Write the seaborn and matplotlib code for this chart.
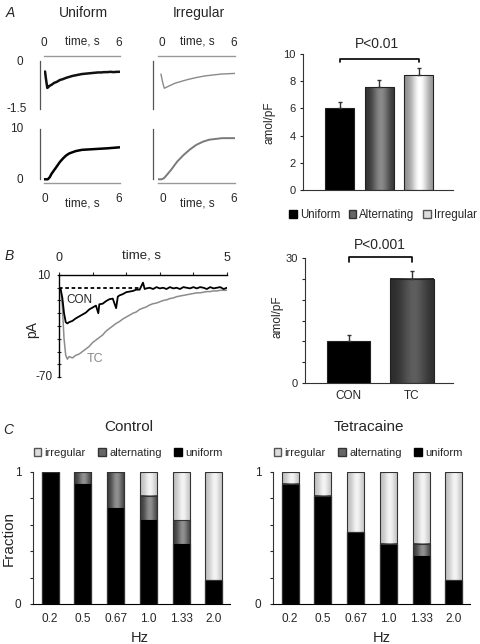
import numpy as np
import matplotlib
matplotlib.use('Agg')
import matplotlib.pyplot as plt
import seaborn as sns
from matplotlib.colors import to_rgb
from matplotlib.patches import Patch

sns.set_style('white')
plt.rcParams['font.family'] = ['Liberation Sans', 'DejaVu Sans']

# ---- panel A: traces (current, uniform / irregular) ----
uni_cur_t = [0.08, 0.15, 0.26, 0.35, 0.45, 0.6, 0.8, 1.0, 1.25, 1.5, 1.75, 2.0, 2.25, 2.5,
             2.75, 3.0, 3.25, 3.5, 3.75, 4.0, 4.25, 4.5, 4.75, 5.0, 5.25, 5.5, 5.75, 6.0]
uni_cur_v = [-0.33, -0.55, -0.85, -0.82, -0.78, -0.75, -0.69, -0.66, -0.60, -0.57, -0.53, -0.50,
             -0.47, -0.45, -0.43, -0.41, -0.40, -0.39, -0.38, -0.37, -0.36, -0.36, -0.35, -0.35,
             -0.34, -0.35, -0.34, -0.34]
irr_cur_t = [0.23, 0.35, 0.49, 0.8, 1.33, 2.0, 2.36, 3.0, 3.66, 4.3, 4.96, 5.5, 6.0]
irr_cur_v = [-0.41, -0.65, -0.86, -0.80, -0.70, -0.62, -0.58, -0.52, -0.47, -0.44, -0.41, -0.40, -0.39]

# cumulative (amol/pF)
uni_cum_t = [0, 0.3, 0.45, 0.6, 0.8, 1.0, 1.25, 1.5, 1.75, 2.0, 2.5, 3.0, 4.0, 5.0, 6.0]
uni_cum_v = [0, 0, 0.4, 1.1, 1.8, 2.5, 3.4, 4.1, 4.7, 5.1, 5.55, 5.8, 5.95, 6.1, 6.3]
irr_cum_t = [0, 0.3, 0.5, 1.0, 1.5, 2.0, 2.5, 3.0, 3.5, 4.0, 5.0, 6.0]
irr_cum_v = [0, 0, 0.3, 1.8, 3.5, 4.8, 5.9, 6.8, 7.4, 7.8, 8.1, 8.1]

# ---- panel A: bars ----
a_cats = ['Uniform', 'Alternating', 'Irregular']
a_vals = [6.05, 7.55, 8.45]
a_errs = [0.45, 0.55, 0.55]

# ---- panel B: traces (pA) ----
con_t = [0, 0.05, 0.1, 0.15, 0.2, 0.25, 0.3, 0.4, 0.5, 0.6, 0.7, 0.8, 0.9, 1.0, 1.1, 1.17, 1.2,
         1.3, 1.4, 1.5, 1.6, 1.7, 1.75, 1.8, 1.9, 2.0, 2.1, 2.2, 2.3, 2.4, 2.5, 2.55, 2.6, 2.7,
         2.8, 2.9, 3.0, 3.1, 3.2, 3.3, 3.4, 3.5, 3.6, 3.7, 3.8, 3.9, 4.0, 4.1, 4.2, 4.3, 4.4,
         4.5, 4.6, 4.7, 4.8, 4.9, 5.0]
con_v = [0.5, -1, -8, -20, -27, -28, -27, -26, -24, -22.5, -21, -19.5, -17, -15.5, -14, -20, -13,
         -12.5, -10.5, -9, -8.5, -16, -7, -6, -5, -3.5, -3, -2.5, -1.5, -1.5, 4, -1, -0.5, 0,
         -1, 0.5, -0.5, 0, -1, 0.5, -0.5, 0, -1, 0.5, 0, -0.5, 0.5, -0.5, 0.5, 0, -1,
         0.5, -0.5, 0, 0.5, -1, 0]
tc_t = [0, 0.05, 0.1, 0.15, 0.2, 0.25, 0.3, 0.4, 0.5, 0.6, 0.7, 0.8, 0.9, 1.0, 1.1, 1.2, 1.3,
        1.4, 1.5, 1.6, 1.7, 1.8, 1.9, 2.0, 2.1, 2.2, 2.3, 2.4, 2.5, 2.6, 2.7, 2.8, 2.9, 3.0,
        3.1, 3.2, 3.3, 3.4, 3.5, 3.6, 3.7, 3.8, 3.9, 4.0, 4.1, 4.2, 4.3, 4.4, 4.5, 4.6, 4.7,
        4.8, 4.9, 5.0]
tc_v = [0.5, -2, -15, -40, -53, -56, -54, -55, -53, -52, -50, -48, -46, -43, -41, -39, -37,
        -34, -32, -30, -28, -26.5, -24.5, -23, -21.5, -20, -19, -17, -16, -15, -13.5, -12.5,
        -12, -11, -10, -9.5, -8.5, -8, -7, -6.5, -6, -5.5, -5, -4.5, -4, -4, -3.5, -3, -3,
        -2.5, -2.5, -2, -2, -2]

# ---- panel B: bars ----
b_cats = ['CON', 'TC']
b_vals = [10.1, 25.0]
b_errs = [1.4, 1.9]

# ---- panel C: stacked fractions ----
hz_labels = ['0.2', '0.5', '0.67', '1.0', '1.33', '2.0']
ctrl_uniform = [1.0, 0.91, 0.73, 0.64, 0.455, 0.18]
ctrl_alternating = [0.0, 0.09, 0.27, 0.18, 0.18, 0.0]
ctrl_irregular = [0.0, 0.0, 0.0, 0.18, 0.365, 0.82]
tc_uniform = [0.91, 0.82, 0.545, 0.455, 0.365, 0.18]
tc_alternating = [0.0, 0.0, 0.0, 0.0, 0.09, 0.0]
tc_irregular = [0.09, 0.18, 0.455, 0.545, 0.545, 0.82]

W, H = 480, 644
fig = plt.figure(figsize=(W / 100, H / 100), dpi=100)


def add_ax(x0, y0, x1, y1):
    return fig.add_axes([x0 / W, 1 - y1 / H, (x1 - x0) / W, (y1 - y0) / H])


def txt(x, y, s, **kw):
    kw.setdefault('ha', 'center')
    kw.setdefault('va', 'center')
    fig.text(x / W, 1 - y / H, s, **kw)


def shade(ax, patch, c_edge, c_mid, z, peak=0.55):
    x0, y0 = patch.get_x(), patch.get_y()
    w, h = patch.get_width(), patch.get_height()
    u = np.linspace(0, 1, 80)
    prof = np.exp(-((u - peak) / 0.3) ** 2)
    ce, cm = np.array(to_rgb(c_edge)), np.array(to_rgb(c_mid))
    img = ce + (cm - ce) * prof[:, None]
    ax.imshow(img[None, :, :], extent=(x0, x0 + w, y0, y0 + h), aspect='auto',
              interpolation='bilinear', zorder=z)
    patch.set_facecolor('none')
    patch.set_zorder(10)


def trace_axes(ax, top, ylim, vbounds, offset):
    ax.set_xlim(0, 6)
    ax.set_ylim(*ylim)
    for s in ['right', 'top', 'bottom', 'left']:
        ax.spines[s].set_visible(False)
    h = 'top' if top else 'bottom'
    ax.spines[h].set_visible(True)
    ax.spines[h].set_color('#999999')
    ax.spines[h].set_linewidth(1.0)
    ax.spines['left'].set_visible(True)
    ax.spines['left'].set_color('#555555')
    ax.spines['left'].set_linewidth(0.9)
    ax.spines['left'].set_bounds(*vbounds)
    ax.spines['left'].set_position(('outward', offset))
    ax.set_xticks([])
    ax.set_yticks([])
    ax.patch.set_alpha(0)


# ===== Panel A traces =====
txt(10, 13, 'A', fontsize=10, style='italic')
txt(83, 13, 'Uniform', fontsize=10)
txt(199, 13, 'Irregular', fontsize=10)

ax = add_ax(44, 56, 120, 108.5)
trace_axes(ax, True, (-1.5, 0.16), (-1.5, 0), 2.9)
sns.lineplot(x=uni_cur_t, y=uni_cur_v, ax=ax, color='#111111', linewidth=1.8,
             estimator=None, sort=False)
ax = add_ax(158, 56, 235, 108.5)
trace_axes(ax, True, (-1.5, 0.16), (-1.5, 0), 3.6)
sns.lineplot(x=irr_cur_t, y=irr_cur_v, ax=ax, color='#8a8a8a', linewidth=1.0,
             estimator=None, sort=False)

ax = add_ax(44, 128.5, 120, 183)
trace_axes(ax, False, (-0.73, 10), (0, 10), 2.9)
sns.lineplot(x=uni_cum_t, y=uni_cum_v, ax=ax, color='black', linewidth=1.8,
             estimator=None, sort=False)
ax = add_ax(158, 128.5, 235, 183)
trace_axes(ax, False, (-0.73, 10), (0, 10), 3.6)
sns.lineplot(x=irr_cum_t, y=irr_cum_v, ax=ax, color='#7a7a7a', linewidth=1.4,
             estimator=None, sort=False)

for x0, x1, xm in [(44, 119, 82), (161.5, 233.5, 197)]:
    txt(x0, 43, '0', fontsize=8.5)
    txt(x1, 43, '6', fontsize=8.5)
    txt(xm, 41, 'time, s', fontsize=8.5)
    txt(x0 + 1, 199, '0', fontsize=8.5)
    txt(x1, 199, '6', fontsize=8.5)
    txt(xm, 203, 'time, s', fontsize=8.5)
txt(20, 62, '0', fontsize=8.5)
txt(17, 109, '-1.5', fontsize=8.5)
txt(17, 129, '10', fontsize=8.5)
txt(20, 180, '0', fontsize=8.5)


def bar_axes(ax):
    sns.despine(ax=ax)
    ax.spines['left'].set_color('#333333')
    ax.spines['bottom'].set_color('#333333')
    ax.tick_params(axis='y', direction='out', length=2.2, width=0.8, left=True,
                   labelsize=8, pad=3)
    ax.tick_params(axis='x', length=0)


# ===== Panel A bars =====
axA = add_ax(303, 54, 453, 190)
sns.barplot(x=a_cats, y=a_vals, hue=a_cats, palette=['black', '#555555', '#cccccc'],
            legend=False, width=0.73, edgecolor='#222222', linewidth=0.8,
            errorbar=None, ax=axA)
axA.errorbar(range(3), a_vals, yerr=[[0] * 3, a_errs], fmt='none', ecolor='#333333',
             elinewidth=1.0, capsize=1.2, zorder=12)
pa = list(axA.patches)
shade(axA, pa[1], '#2e2e2e', '#8a8a8a', 2)
shade(axA, pa[2], '#8c8c8c', '#ffffff', 2)
bar_axes(axA)
axA.set_xlim(-0.92, 2.86)
axA.set_ylim(0, 10)
axA.set_yticks([0, 2, 4, 6, 8, 10])
axA.set_xticks([])
axA.plot([0, 0, 2, 2], [9.4, 9.65, 9.65, 9.4], color='black', lw=1.2, clip_on=False)
txt(377, 44, 'P<0.01', fontsize=10)
txt(269, 123, 'amol/pF', fontsize=8.5, rotation=90)
fig.legend(handles=[Patch(facecolor='black', edgecolor='black'),
                    Patch(facecolor='#666666', edgecolor='#333333'),
                    Patch(facecolor='#dddddd', edgecolor='#555555')],
           labels=a_cats, loc='center', bbox_to_anchor=(383 / W, 1 - 215 / H), ncol=3,
           frameon=False, fontsize=8.3, handlelength=0.65, handleheight=0.65,
           handletextpad=0.25, columnspacing=0.75, borderpad=0, borderaxespad=0)

# ===== Panel B traces =====
txt(9, 256, 'B', fontsize=10, style='italic')
axB = add_ax(59, 275, 227, 377)
axB.set_xlim(0, 5)
axB.set_ylim(-70, 10)
for s in ['right', 'bottom']:
    axB.spines[s].set_visible(False)
for s in ['top', 'left']:
    axB.spines[s].set_color('black')
    axB.spines[s].set_linewidth(1.0)
axB.xaxis.tick_top()
axB.set_xticks([0, 1, 2, 3, 4, 5])
axB.set_xticklabels([])
axB.set_yticks([10, 0, -10, -20, -30, -40, -50, -60, -70])
axB.set_yticklabels([])
axB.tick_params(axis='x', direction='out', length=2.5, width=0.8, top=True)
axB.tick_params(axis='y', direction='inout', length=3, width=0.8, left=True)
axB.patch.set_alpha(0)
axB.plot([0, 2.4], [0, 0], color='black', lw=1.3, ls=(0, (2, 1.5)), zorder=1)
sns.lineplot(x=tc_t, y=tc_v, ax=axB, color='#8c8c8c', linewidth=1.1, estimator=None,
             sort=False, zorder=2)
sns.lineplot(x=con_t, y=con_v, ax=axB, color='black', linewidth=1.3, estimator=None,
             sort=False, zorder=3)
txt(59, 258, '0', fontsize=9)
txt(227, 258, '5', fontsize=9)
txt(142, 255, 'time, s', fontsize=9.5)
txt(44, 276, '10', fontsize=8.5, ha='center')
txt(44, 377, '-70', fontsize=8.5, ha='center')
txt(32, 330, 'pA', fontsize=10, rotation=90)
txt(79, 300, 'CON', fontsize=8.5)
txt(95, 359, 'TC', fontsize=9, color='#888888')

# ===== Panel B bars =====
axBb = add_ax(305, 258, 453, 383)
sns.barplot(x=b_cats, y=b_vals, hue=b_cats, palette=['black', '#444444'], legend=False,
            width=0.68, edgecolor='#222222', linewidth=0.8, errorbar=None, ax=axBb)
axBb.errorbar(range(2), b_vals, yerr=[[0] * 2, b_errs], fmt='none', ecolor='#333333',
              elinewidth=1.0, capsize=1.2, zorder=12)
pb = list(axBb.patches)
shade(axBb, pb[1], '#2a2a2a', '#5e5e5e', 2)
bar_axes(axBb)
axBb.set_xlim(-0.685, 1.645)
axBb.set_ylim(0, 30)
axBb.set_yticks([0, 5, 10, 15, 20, 25, 30])
axBb.set_yticklabels(['0', '', '', '', '', '', '30'])
axBb.tick_params(axis='x', labelsize=8.5, pad=5)
axBb.plot([0, 0, 1, 1], [29.1, 30.15, 30.15, 29.1], color='black', lw=1.2, clip_on=False)
txt(380, 245, 'P<0.001', fontsize=10)
txt(277, 317, 'amol/pF', fontsize=8.5, rotation=90)

# ===== Panel C =====
txt(8, 430, 'C', fontsize=10, style='italic')
leg_handles = [Patch(facecolor='#dddddd', edgecolor='#555555'),
               Patch(facecolor='#666666', edgecolor='#333333'),
               Patch(facecolor='black', edgecolor='black')]
leg_labels = ['irregular', 'alternating', 'uniform']

for x0, x1, title, uni, alt, irr, xc, xhz in [
        (33, 230, 'Control', ctrl_uniform, ctrl_alternating, ctrl_irregular, 128, 140),
        (273, 470, 'Tetracaine', tc_uniform, tc_alternating, tc_irregular, 368, 382)]:
    ax = add_ax(x0, 472, x1, 604)
    top_alt = [u + a for u, a in zip(uni, alt)]
    top_irr = [u + a + i for u, a, i in zip(uni, alt, irr)]
    sns.barplot(x=hz_labels, y=top_irr, color='#dddddd', width=0.52, edgecolor='#333333',
                linewidth=0.8, errorbar=None, ax=ax)
    n = len(hz_labels)
    sns.barplot(x=hz_labels, y=top_alt, color='#666666', width=0.52, edgecolor='#333333',
                linewidth=0.8, errorbar=None, ax=ax)
    sns.barplot(x=hz_labels, y=uni, color='black', width=0.52, edgecolor='black',
                linewidth=0.8, errorbar=None, ax=ax)
    pc = list(ax.patches)
    for p in pc[:n]:
        shade(ax, p, '#bdbdbd', '#f4f4f4', 1)
    for p in pc[n:2 * n]:
        shade(ax, p, '#3a3a3a', '#909090', 2)
    for p in pc[2 * n:]:
        p.set_zorder(5)
    bar_axes(ax)
    ax.spines['bottom'].set_color('black')
    ax.set_xlim(-0.52, 5.49)
    ax.set_ylim(0, 1)
    ax.set_yticks([0, 0.2, 0.4, 0.6, 0.8, 1.0])
    ax.set_yticklabels(['0', '', '', '', '', '1'])
    ax.tick_params(axis='y', labelsize=8.5, pad=6)
    ax.tick_params(axis='x', labelsize=8.5, pad=6.5)
    txt((x0 + x1) / 2 - 3, 427, title, fontsize=11)
    txt(xhz, 638, 'Hz', fontsize=10.5)
    fig.legend(handles=leg_handles, labels=leg_labels, loc='center',
               bbox_to_anchor=(xc / W, 1 - 453 / H), ncol=3, frameon=False, fontsize=8,
               handlelength=0.7, handleheight=0.7, handletextpad=0.3, columnspacing=1.1,
               borderpad=0)

txt(9, 538, 'Fraction', fontsize=11, rotation=90)

fig.savefig('out.png', dpi=100)
